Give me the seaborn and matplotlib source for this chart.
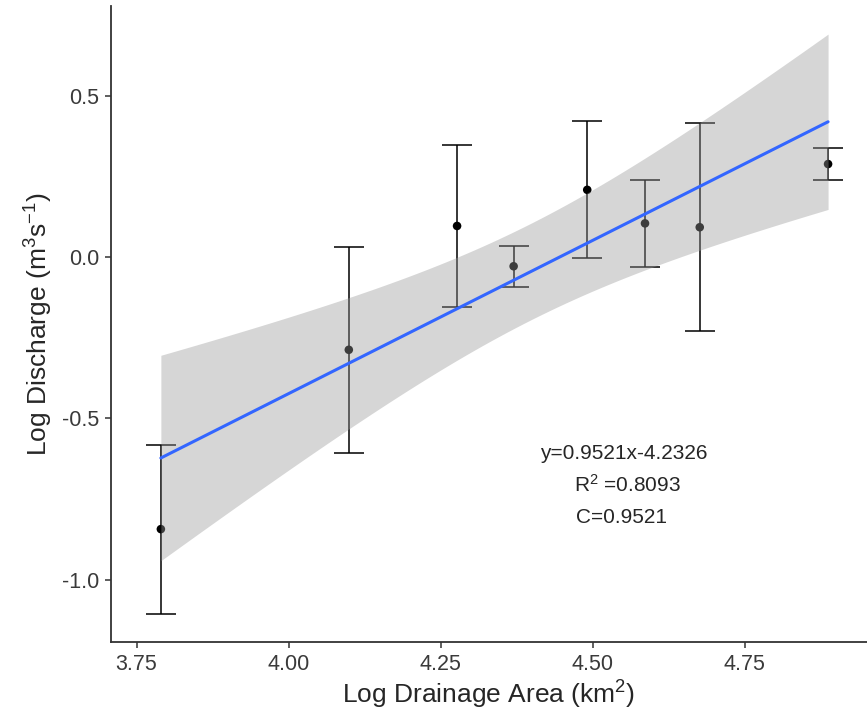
import numpy as np
import pandas as pd
import matplotlib
matplotlib.use("Agg")
import matplotlib.pyplot as plt
import seaborn as sns

# values
log_area = [3.790, 4.099, 4.277, 4.370, 4.491, 4.586, 4.676, 4.887]
log_q = [-0.843, -0.287, 0.097, -0.028, 0.209, 0.105, 0.093, 0.289]
q_err = [0.262, 0.319, 0.252, 0.063, 0.212, 0.134, 0.322, 0.051]

eq_lines = ["y=0.9521x-4.2326", r"R$^2$ =0.8093", "C=0.9521"]
x_ticks = [3.75, 4.00, 4.25, 4.50, 4.75]
y_ticks = [-1.0, -0.5, 0.0, 0.5]

df = pd.DataFrame({"area": log_area, "q": log_q, "err": q_err})

sns.set_style("ticks")
plt.rcParams["font.family"] = ["Liberation Sans", "DejaVu Sans"]
plt.rcParams["mathtext.fontset"] = "custom"
plt.rcParams["mathtext.rm"] = "Liberation Sans"
plt.rcParams["mathtext.it"] = "Liberation Sans:italic"
plt.rcParams["mathtext.default"] = "regular"

fig = plt.figure(figsize=(8.67, 7.27), dpi=100)
ax = fig.add_axes([111 / 867, 1 - 642 / 727, (867 - 111) / 867, (642 - 6) / 727])

# points with error bars (under the ribbon, like ggplot)
ax.errorbar(df["area"], df["q"], yerr=df["err"], fmt="none", ecolor="black",
            elinewidth=1.1, capsize=10.8, capthick=1.1, zorder=1)
sns.scatterplot(data=df, x="area", y="q", color="black", s=38, edgecolor="none",
                ax=ax, zorder=2)

# linear fit with 95% confidence band (t-interval)
xs = np.linspace(df["area"].min(), df["area"].max(), 80)
slope, icpt = np.polyfit(df["area"], df["q"], 1)
n = len(df)
resid = df["q"] - (slope * df["area"] + icpt)
s = np.sqrt((resid ** 2).sum() / (n - 2))
sxx = ((df["area"] - df["area"].mean()) ** 2).sum()
se = s * np.sqrt(1 / n + (xs - df["area"].mean()) ** 2 / sxx)
t_crit = 2.447  # df = 6
fit = slope * xs + icpt
ax.fill_between(xs, fit - t_crit * se, fit + t_crit * se, color="#999999",
                alpha=0.4, linewidth=0, zorder=3)
sns.lineplot(x=xs, y=fit, color="#3366FF", linewidth=2.2, ax=ax, zorder=4)

# equation text
ax.text(4.413, -0.607, eq_lines[0], fontsize=15, va="center", ha="left")
ax.text(4.470, -0.707, eq_lines[1], fontsize=15, va="center", ha="left")
ax.text(4.473, -0.808, eq_lines[2], fontsize=15, va="center", ha="left")

ax.set_xlim(3.708, 4.951)
ax.set_ylim(-1.193, 0.779)
ax.set_xticks(x_ticks)
ax.set_xticklabels([f"{v:.2f}" for v in x_ticks])
ax.set_yticks(y_ticks)
ax.set_yticklabels([f"{v:.1f}" for v in y_ticks])
ax.tick_params(axis="both", length=4.5, width=1.1, color="#333333",
               labelcolor="#3a3a3a", labelsize=15.5, pad=4)

ax.set_xlabel(r"Log Drainage Area (km$^2$)", fontsize=19, labelpad=3)
ax.set_ylabel(r"Log Discharge (m$^3$s$^{-1}$)", fontsize=19, labelpad=5)

sns.despine(ax=ax)
for side in ["left", "bottom"]:
    ax.spines[side].set_linewidth(1.3)
    ax.spines[side].set_color("#333333")

fig.savefig("out.png", dpi=100)
